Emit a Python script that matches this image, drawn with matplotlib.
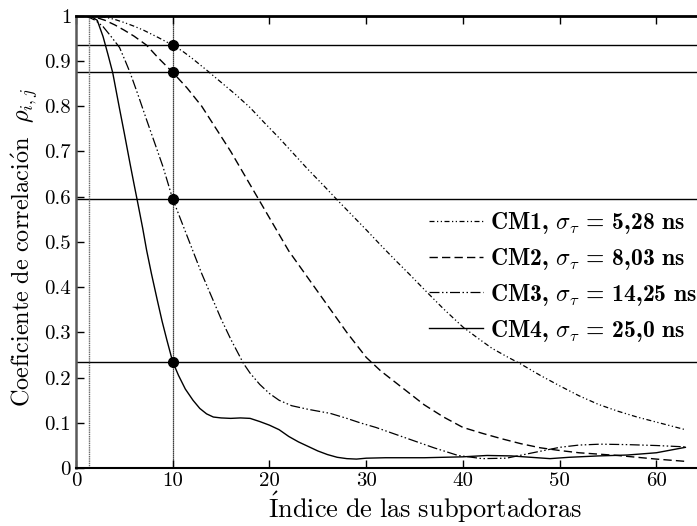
import numpy as np
import matplotlib
matplotlib.use("Agg")
import matplotlib.pyplot as plt
from matplotlib.ticker import FuncFormatter

# Curvas (índice de subportadora, coeficiente)
x_cm1 = [1, 2, 3, 4, 5, 6, 7, 8.5, 10, 11, 12, 13.5, 15, 16.5, 18, 19.5, 21, 22.5, 24,
         25.5, 27, 28.5, 30, 31.5, 33, 34.5, 36, 38, 40, 41.5, 43, 44.5, 46, 48, 50, 52,
         54, 56, 58, 60.5, 63]
y_cm1 = [1.0, 0.999, 0.997, 0.992, 0.985, 0.977, 0.968, 0.952, 0.935, 0.922, 0.906,
         0.88, 0.853, 0.826, 0.797, 0.763, 0.73, 0.695, 0.66, 0.627, 0.593, 0.56, 0.527,
         0.493, 0.46, 0.428, 0.395, 0.352, 0.312, 0.288, 0.265, 0.247, 0.23, 0.205, 0.182,
         0.16, 0.141, 0.126, 0.113, 0.099, 0.085]

x_cm2 = [1, 2, 3, 4, 5, 6, 7.3, 8.5, 10, 11.5, 13, 14.5, 16, 17.5, 19, 20.5, 22, 24, 26,
         28, 30, 31.5, 33, 34.5, 36, 38, 40, 42, 44, 46, 48, 50, 52, 54, 56, 58, 60, 63]
y_cm2 = [1.0, 0.997, 0.99, 0.98, 0.968, 0.955, 0.935, 0.907, 0.875, 0.84, 0.80, 0.75, 0.70,
         0.645, 0.59, 0.535, 0.48, 0.42, 0.36, 0.30, 0.245, 0.215, 0.19, 0.165, 0.14,
         0.113, 0.09, 0.077, 0.065, 0.054, 0.045, 0.039, 0.034, 0.031, 0.028, 0.024,
         0.02, 0.015]

x_cm3 = [1, 2, 2.8, 3.6, 4.5, 5.1, 5.6, 6.5, 7.3, 8.2, 9, 10, 11, 12, 13, 14.2, 15, 16,
         17.3, 18, 19, 20, 21, 22.3, 24, 26.3, 28, 29.4, 31, 33, 35, 37, 39.5, 42, 44.5,
         47, 50, 52, 54.2, 57, 60, 63]
y_cm3 = [1.0, 0.99, 0.976, 0.955, 0.93, 0.9, 0.874, 0.82, 0.77, 0.715, 0.666, 0.595,
         0.54, 0.485, 0.43, 0.37, 0.33, 0.285, 0.232, 0.21, 0.185, 0.165, 0.15, 0.138,
         0.13, 0.121, 0.11, 0.1, 0.09, 0.075, 0.06, 0.045, 0.028, 0.021, 0.022, 0.033,
         0.046, 0.051, 0.053, 0.052, 0.05, 0.047]

x_cm4 = [1, 1.6, 2.2, 2.8, 3.3, 3.8, 4.5, 5, 5.6, 6, 6.4, 6.9, 7.3, 7.8, 8.4, 8.9, 9.4,
         10, 10.6, 11.3, 12.1, 12.8, 13.5, 14.2, 15, 16, 17, 18, 19, 20, 21, 22, 23, 24,
         25, 26, 27, 28, 29, 30, 32, 36, 40, 42.5, 45, 47, 49, 51, 54, 57, 60, 63]
y_cm4 = [1.0, 0.998, 0.99, 0.954, 0.915, 0.874, 0.795, 0.74, 0.672, 0.628, 0.585, 0.53,
         0.482, 0.43, 0.372, 0.325, 0.283, 0.235, 0.205, 0.175, 0.15, 0.132, 0.12, 0.113,
         0.111, 0.11, 0.111, 0.11, 0.103, 0.095, 0.085, 0.07, 0.058, 0.048, 0.038, 0.03,
         0.024, 0.021, 0.02, 0.022, 0.023, 0.023, 0.025, 0.028, 0.027, 0.024, 0.021,
         0.024, 0.027, 0.029, 0.034, 0.046]

labels = ["CM1, $\\sigma_\\tau$ = 5,28 ns",
          "CM2, $\\sigma_\\tau$ = 8,03 ns",
          "CM3, $\\sigma_\\tau$ = 14,25 ns",
          "CM4, $\\sigma_\\tau$ = 25,0 ns"]

# Valores marcados en la subportadora 10
x_mark = 10
y_marks = [0.935, 0.875, 0.595, 0.235]

plt.rcParams["mathtext.fontset"] = "cm"
plt.rcParams["font.family"] = ["cmr10", "DejaVu Serif"]
plt.rcParams["axes.formatter.use_mathtext"] = True

fig = plt.figure(figsize=(6.97, 5.26), dpi=100)
ax = fig.add_axes([0.109, 0.110, 0.891, 0.860])

ax.plot(x_cm1, y_cm1, color="k", lw=0.9, ls=(0, (4, 2, 1, 2, 1, 2)), label=labels[0])
ax.plot(x_cm2, y_cm2, color="k", lw=1.0, ls=(0, (6, 3)), label=labels[1])
ax.plot(x_cm3, y_cm3, color="k", lw=0.9, ls=(0, (8, 2, 1.2, 2, 1.2, 2)), label=labels[2])
ax.plot(x_cm4, y_cm4, color="k", lw=1.0, ls="-", label=labels[3])

for yv in y_marks:
    ax.axhline(yv, color="k", lw=1.0)
ax.axvline(1.3, color="0.4", lw=1.0, ls=(0, (1, 0.6)))
ax.axvline(x_mark, color="k", lw=0.9, ls=(0, (1, 0.6)))
ax.plot([x_mark] * len(y_marks), y_marks, "o", color="k", ms=7, zorder=5)

ax.set_xlim(0, 64.2)
ax.set_ylim(0, 1)
ax.set_xticks(np.arange(0, 61, 10))
ax.set_yticks(np.arange(0, 1.01, 0.1))
ax.yaxis.set_major_formatter(FuncFormatter(lambda v, p: "%g" % round(v, 1)))
ax.xaxis.set_major_formatter(FuncFormatter(lambda v, p: "%d" % v))
ax.tick_params(direction="in", length=6, width=1, labelsize=15, top=True, right=False)
ax.tick_params(axis="x", pad=3)

ax.spines["right"].set_visible(False)
ax.spines["top"].set_linewidth(2)
ax.spines["bottom"].set_linewidth(1.5)
ax.spines["left"].set_linewidth(1.8)
ax.spines["left"].set_color("0.35")

ax.set_xlabel(r"$\mathrm{\acute{I}ndice\ de\ las\ subportadoras}$", fontsize=19)
ax.xaxis.set_label_coords(0.562, -0.048)
ax.set_ylabel(r"$\mathrm{Coeficiente\ de\ correlaci\acute{o}n}\ \ \rho_{i,j}$", fontsize=17.5)
ax.yaxis.set_label_coords(-0.057, 0.487)

leg = ax.legend(loc="center right", bbox_to_anchor=(1.034, 0.423), frameon=False,
                handlelength=2.25, labelspacing=0.42, handletextpad=0.3,
                prop={"family": "cmb10", "size": 17})

fig.savefig("out.png", dpi=100)
